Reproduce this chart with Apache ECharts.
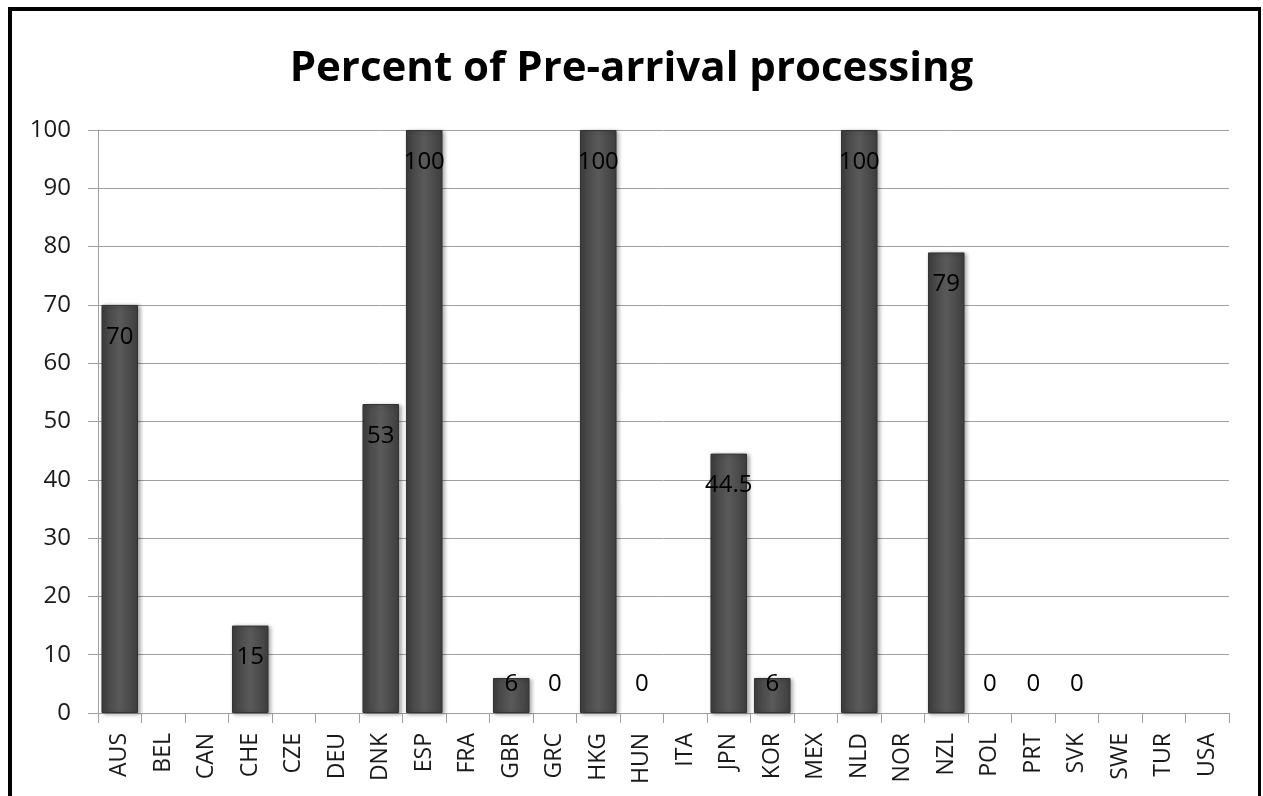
<!DOCTYPE html>
<html>
<head>
<meta charset="utf-8">
<script src="https://cdn.jsdelivr.net/npm/echarts@6/dist/echarts.min.js"></script>
<style>
html,body{margin:0;padding:0;background:#fff;overflow:hidden;}
#frame{position:absolute;left:8px;top:7px;width:1253px;height:820px;border-left:4px solid #000;border-top:4px solid #000;border-right:3px solid #000;box-sizing:border-box;}
#chart{position:absolute;left:0;top:0;width:1263px;height:796px;}
</style>
</head>
<body>
<div id="frame"></div>
<div id="chart"></div>
<script>
const titleText = 'Percent of Pre-arrival processing';
const categories = ['AUS','BEL','CAN','CHE','CZE','DEU','DNK','ESP','FRA','GBR','GRC','HKG','HUN','ITA','JPN','KOR','MEX','NLD','NOR','NZL','POL','PRT','SVK','SWE','TUR','USA'];
const values = [70,null,null,15,null,null,53,100,null,6,0,100,0,null,44.5,6,null,100,null,79,0,0,0,null,null,null];
const yTicks = {min:0, max:100, interval:10};
</script>
<script>
const chart = echarts.init(document.getElementById('chart'), null, {renderer:'canvas'});
const barColor = new echarts.graphic.LinearGradient(0,0,1,0,[
  {offset:0,color:'#3e3e3e'},{offset:0.5,color:'#5a5a5a'},{offset:1,color:'#3e3e3e'}]);
const data = values.map(v => {
  if (v === null) return {value: null};
  const item = {value: v};
  if (v < 10) item.label = {position:'insideBottom', distance:17};
  if (v === 0) item.itemStyle = {borderWidth:0, shadowBlur:0, shadowColor:'transparent', opacity:0};
  return item;
});
chart.setOption({
  animation:false,
  title:{text:titleText,left:'center',top:43,textStyle:{fontFamily:'Open Sans',fontWeight:'bold',fontSize:42,color:'#000'}},
  grid:{left:98,right:34,top:130,bottom:83,containLabel:false},
  xAxis:{type:'category',data:categories,boundaryGap:true,
    axisLine:{lineStyle:{color:'#a0a0a0',width:1}},
    axisTick:{show:true,length:10,alignWithLabel:false,lineStyle:{color:'#a0a0a0'}},
    axisLabel:{rotate:90,margin:20,interval:0,fontFamily:'Open Sans',fontSize:23,color:'#1a1a1a'}},
  yAxis:{type:'value',min:yTicks.min,max:yTicks.max,interval:yTicks.interval,
    axisLine:{show:true,lineStyle:{color:'#a0a0a0'}},
    axisTick:{show:true,length:10,inside:false,lineStyle:{color:'#a0a0a0'}},
    splitLine:{lineStyle:{color:'#a0a0a0',width:1}},
    axisLabel:{margin:27,fontFamily:'Open Sans',fontSize:24,color:'#1a1a1a'}},
  series:[{type:'bar',data:data,barCategoryGap:'16%',
    itemStyle:{color:barColor,borderColor:'#333333',borderWidth:1,shadowColor:'rgba(0,0,0,0.35)',shadowBlur:4,shadowOffsetX:2,shadowOffsetY:1},
    label:{show:true,position:'insideTop',distance:20,fontFamily:'Open Sans',fontSize:24,color:'#000',opacity:1,
      formatter:p => p.value === null || p.value === undefined ? '' : String(p.value)}}]
});
</script>
</body>
</html>
